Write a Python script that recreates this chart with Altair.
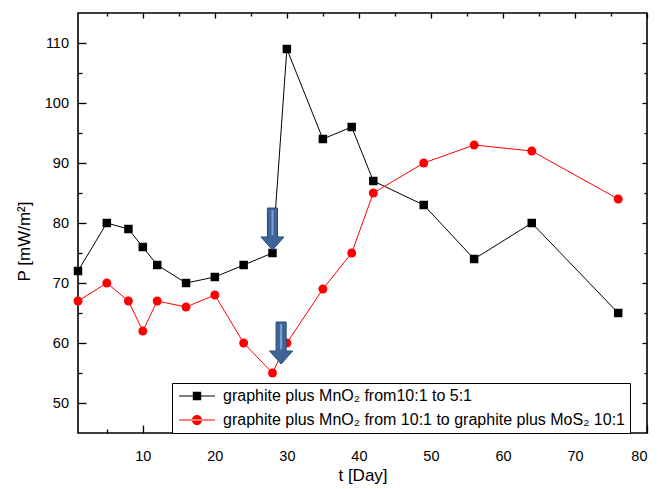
import altair as alt
import pandas as pd

# ---- data ----
days = [1, 5, 8, 10, 12, 16, 20, 24, 28, 30, 35, 39, 42, 49, 56, 64, 76]
p_mno2 = [72, 80, 79, 76, 73, 70, 71, 73, 75, 109, 94, 96, 87, 83, 74, 80, 65]
p_mos2 = [67, 70, 67, 62, 67, 66, 68, 60, 55, 60, 69, 75, 85, 90, 93, 92, 84]
series_names = [
    "graphite plus MnO\u2082 from10:1 to 5:1",
    "graphite plus MnO\u2082 from 10:1 to graphite plus MoS\u2082 10:1",
]
series_colors = ["black", "red"]
x_major = [10, 20, 30, 40, 50, 60, 70, 80]
x_minor = [5, 15, 25, 35, 45, 55, 65, 75]
y_major = [50, 60, 70, 80, 90, 100, 110]
y_minor = [55, 65, 75, 85, 95, 105]
arrow_day = [28, 29.2]
arrow_p = [79, 60]

FONT = "Liberation Sans"
df_a = pd.DataFrame({"day": days, "P": p_mno2})
df_b = pd.DataFrame({"day": days, "P": p_mos2})
df_arrow = pd.DataFrame({"day": arrow_day, "P": arrow_p})
df_leg = pd.DataFrame({"series": series_names, "day": [-60, -60], "P": [0, 0]})

xs = alt.Scale(domain=[1, 80], nice=False, zero=False)
ys = alt.Scale(domain=[45, 115], nice=False, zero=False)


def ax(orient, values, tick, labels=False, pad=0, title=None, **extra):
    kw = dict(orient=orient, values=values, tickSize={"expr": str(-tick)},
              tickColor="black", tickWidth=1.3, domain=False, grid=False,
              labels=labels, title=title)
    if labels:
        kw.update(labelFont=FONT, labelFontSize=14.5, labelColor="black",
                  labelPadding=pad)
    kw.update(extra)
    return alt.Axis(**kw)


ax_bottom = ax("bottom", x_major, 8, labels=True, pad=24, title="t [Day]",
               titleFont=FONT, titleFontSize=17, titleFontWeight="normal",
               titleColor="black", titleY=42, titleBaseline="middle")
ax_left = ax("left", y_major, 8, labels=True, pad=17.5, title="P [mW/m\u00b2]",
             titleFont=FONT, titleFontSize=17, titleFontWeight="normal",
             titleColor="black", titleX=-54, titleY=228, titleBaseline="middle")

black_line = alt.Chart(df_a).mark_line(color="black", strokeWidth=1).encode(
    x=alt.X("day:Q", scale=xs, axis=ax_bottom),
    y=alt.Y("P:Q", scale=ys, axis=ax_left),
)
red_line = alt.Chart(df_b).mark_line(color="red", strokeWidth=1).encode(
    x=alt.X("day:Q", scale=xs, axis=ax("bottom", x_minor, 4)),
    y=alt.Y("P:Q", scale=ys, axis=ax("left", y_minor, 4)),
)
black_pts = alt.Chart(df_a).mark_point(
    shape="square", filled=True, color="black", size=72, opacity=1
).encode(
    x=alt.X("day:Q", scale=xs, axis=ax("top", x_major, 5)),
    y=alt.Y("P:Q", scale=ys, axis=ax("right", y_major, 5)),
)
red_pts = alt.Chart(df_b).mark_point(
    shape="circle", filled=True, color="red", size=80, opacity=1
).encode(
    x=alt.X("day:Q", scale=xs, axis=ax("top", x_minor, 3)),
    y=alt.Y("P:Q", scale=ys, axis=ax("right", y_minor, 3)),
)

arrow_path = "M-0.24,-1H0.24V0.38H0.55L0,1L-0.55,0.38H-0.24Z"
arrows = alt.Chart(df_arrow).mark_point(
    shape=arrow_path, size=1764, filled=True, fill="#3f6499",
    stroke="#2b4a78", strokeWidth=1, opacity=1
).encode(
    x=alt.X("day:Q", scale=xs, axis=None),
    y=alt.Y("P:Q", scale=ys, axis=None),
)
stripes = alt.Chart(df_arrow).mark_point(
    shape="M0,-0.9V0.3", size=1764, filled=False, stroke="#7ea3d2",
    strokeWidth=2, opacity=1
).encode(
    x=alt.X("day:Q", scale=xs, axis=None),
    y=alt.Y("P:Q", scale=ys, axis=None),
)

sym_black = "M-1,-0.09H5V0.09H-1Z M1.3,-0.7H2.7V0.7H1.3Z"
sym_red = ("M-1,-0.09H5V0.09H-1Z M1.15,0A0.85,0.85,0,1,0,2.85,0"
           "A0.85,0.85,0,1,0,1.15,0Z")
legend = alt.Legend(
    orient="none", legendX=94, legendY=370, title=None, direction="vertical",
    labelFont=FONT, labelFontSize=16, labelColor="black", labelLimit=0,
    strokeColor="black", fillColor="white", padding=5, rowPadding=8,
    symbolSize=144, symbolStrokeWidth=0, labelOffset=30, symbolOpacity=1,
)
legend_layer = alt.Chart(df_leg).mark_point(
    filled=True, clip=True, size=144, opacity=1
).encode(
    x=alt.X("day:Q", scale=xs, axis=None),
    y=alt.Y("P:Q", scale=ys, axis=None),
    color=alt.Color("series:N", scale=alt.Scale(domain=series_names,
                                                range=series_colors),
                    legend=legend),
    shape=alt.Shape("series:N", scale=alt.Scale(domain=series_names,
                                                range=[sym_black, sym_red]),
                    legend=legend),
)

chart = alt.layer(
    black_line, red_line, black_pts, red_pts, arrows, stripes, legend_layer
).resolve_axis(x="independent", y="independent").properties(
    width=569, height=420,
    padding={"left": 78, "top": 13, "right": 11, "bottom": 56},
    autosize=alt.AutoSizeParams(type="none"),
    background="white",
).configure_view(stroke="black", strokeWidth=1.6)

chart.save("out.html", embed_options={"renderer": "svg", "actions": False})
